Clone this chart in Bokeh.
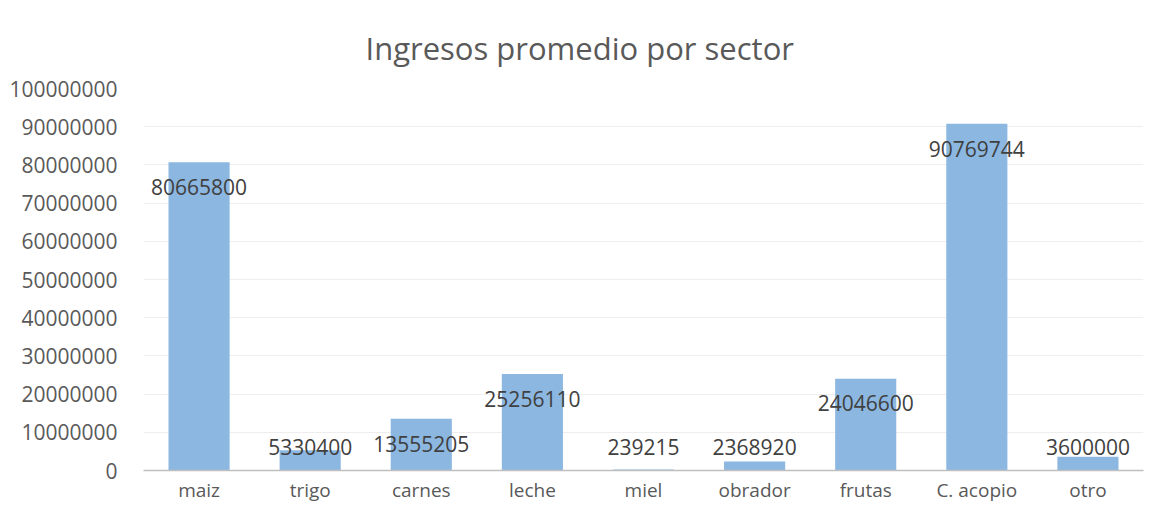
from bokeh.plotting import figure
from bokeh.models import ColumnDataSource, Range1d, NumeralTickFormatter
from bokeh.embed import file_html
from bokeh.resources import INLINE
from bokeh.core.properties import value

sectors = ["maiz", "trigo", "carnes", "leche", "miel", "obrador", "frutas", "C. acopio", "otro"]
ingresos = [80665800, 5330400, 13555205, 25256110, 239215, 2368920, 24046600, 90769744, 3600000]
y_ticks = list(range(0, 100000001, 10000000))

label_y = [max(v - 6500000, 6270000) for v in ingresos]
src = ColumnDataSource(dict(x=sectors, top=ingresos, ly=label_y, txt=[str(v) for v in ingresos]))

p = figure(x_range=sectors, y_range=Range1d(0, 100000000), width=1155, height=505,
           output_backend="svg", toolbar_location=None, title="Ingresos promedio por sector")
p.min_border_left = 143
p.min_border_right = 12
p.min_border_top = 88
p.min_border_bottom = 34
p.outline_line_color = None
p.background_fill_color = "white"
p.border_fill_color = "white"

p.title.text_font = "Open Sans"
p.title.text_font_size = "31px"
p.title.text_font_style = "normal"
p.title.text_color = "#595959"
p.title.align = "left"
p.title.offset = 222
p.title.standoff = 40

p.vbar(x="x", top="top", width=0.55, source=src, fill_color="#8BB7E1", line_color=None)
p.text(x="x", y="ly", text="txt", source=src, text_align="center", text_baseline="middle",
       text_font=value("Open Sans"), text_font_size="21px", text_color="#404040")

p.yaxis.ticker = y_ticks
p.yaxis.formatter = NumeralTickFormatter(format="0")
p.yaxis.axis_line_color = None
p.yaxis.major_tick_line_color = None
p.yaxis.minor_tick_line_color = None
p.yaxis.major_label_standoff = 20
p.yaxis.major_label_text_font = "Open Sans"
p.yaxis.major_label_text_font_size = "21px"
p.yaxis.major_label_text_color = "#595959"

p.xaxis.axis_line_color = "#BFBFBF"
p.xaxis.axis_line_width = 1.5
p.xaxis.major_tick_line_color = None
p.xaxis.minor_tick_line_color = None
p.xaxis.major_label_standoff = 0
p.xaxis.major_label_text_font = "Open Sans"
p.xaxis.major_label_text_font_size = "19px"
p.xaxis.major_label_text_color = "#595959"

p.xgrid.grid_line_color = None
p.ygrid.grid_line_color = "#EEEEEE"
p.ygrid.grid_line_width = 1

open("out.html", "w").write(file_html(p, INLINE))
